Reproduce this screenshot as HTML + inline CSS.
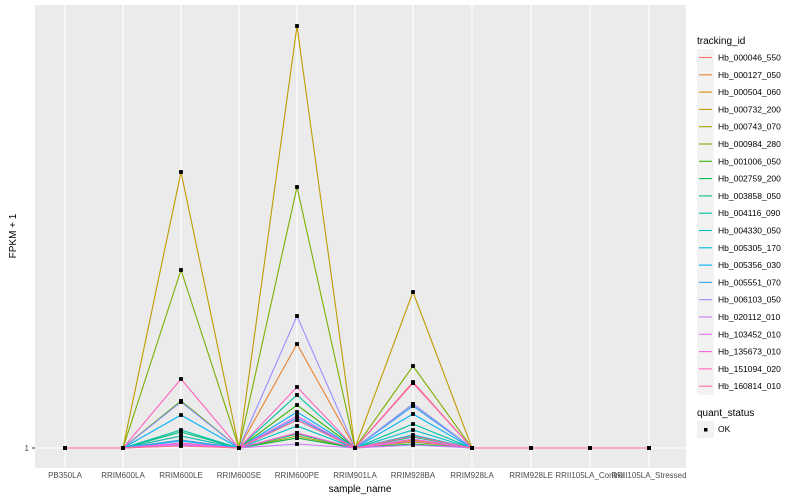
<!DOCTYPE html>
<html><head><meta charset="utf-8"><style>
body{margin:0;background:#fff;}
svg{display:block;font-family:"Liberation Sans",sans-serif;}
</style></head><body>
<svg id="s" width="800" height="500" xmlns="http://www.w3.org/2000/svg">
<rect x="35" y="5" width="651" height="463" fill="#EBEBEB"/>
<g stroke="#fff" stroke-width="1.1">
<line x1="35" x2="686" y1="448" y2="448"/>
<line x1="65" x2="65" y1="5" y2="468"/><line x1="123" x2="123" y1="5" y2="468"/>
<line x1="181" x2="181" y1="5" y2="468"/><line x1="239" x2="239" y1="5" y2="468"/>
<line x1="297" x2="297" y1="5" y2="468"/><line x1="355" x2="355" y1="5" y2="468"/>
<line x1="413" x2="413" y1="5" y2="468"/><line x1="472" x2="472" y1="5" y2="468"/>
<line x1="531" x2="531" y1="5" y2="468"/><line x1="590" x2="590" y1="5" y2="468"/>
<line x1="649" x2="649" y1="5" y2="468"/>
</g>
<g id="lines"></g>
<g id="pts"></g>
<line x1="32" x2="35" y1="448" y2="448" stroke="#333"/>
<text x="29" y="451" font-size="8" text-anchor="end" fill="#4D4D4D">1</text>
<g font-size="8" fill="#4D4D4D" text-anchor="middle">
<text x="65" y="478">PB350LA</text><text x="123" y="478">RRIM600LA</text>
<text x="181" y="478">RRIM600LE</text><text x="239" y="478">RRIM600SE</text>
<text x="297" y="478">RRIM600PE</text><text x="355" y="478">RRIM901LA</text>
<text x="413" y="478">RRIM928BA</text><text x="472" y="478">RRIM928LA</text>
<text x="531" y="478">RRIM928LE</text><text x="590" y="478">RRII105LA_Control</text>
<text x="649" y="478">RRII105LA_Stressed</text>
</g>
<text x="360" y="492" font-size="10" text-anchor="middle">sample_name</text>
<text x="16" y="236" font-size="10" text-anchor="middle" transform="rotate(-90 16 236)">FPKM + 1</text>
<text x="697" y="44" font-size="10">tracking_id</text>
<g id="leg" font-size="8.5"></g>
<text x="697" y="416" font-size="10">quant_status</text>
<rect x="697" y="421" width="17" height="17" fill="#F2F2F2"/>
<rect x="704" y="428" width="3.5" height="3.5" fill="#000"/>
<text x="718" y="432" font-size="8.5">OK</text>
</svg>
<script>
var names=["Hb_000046_550","Hb_000127_050","Hb_000504_060","Hb_000732_200","Hb_000743_070","Hb_000984_280","Hb_001006_050","Hb_002759_200","Hb_003858_050","Hb_004116_090","Hb_004330_050","Hb_005305_170","Hb_005356_030","Hb_005551_070","Hb_006103_050","Hb_020112_010","Hb_103452_010","Hb_135673_010","Hb_151094_020","Hb_160814_010"];
var cols=["#F8766D","#EA8331","#D89000","#C09B00","#A3A500","#7CAE00","#39B600","#00BB4E","#00BF7D","#00C1A3","#00BFC4","#00BAE0","#00B0F6","#35A2FF","#9590FF","#C77CFF","#E76BF3","#FA62DB","#FF62BC","#FF6C91"];
var v=[[443,433,382],[401,344,383],[436,438,440],[172,26,292],[440,436,442],[270,187,366],[401,405,404],[445,438,444],[432,434,437],[430,395,424],[436,426,430],[441,420,435],[415,412,414],[440,418,406],[402,316,404],[444,444,445],[445,416,439],[443,433,441],[379,387,383],[446,420,436]];
var xs=[65,123,181,239,297,355,413,472,531,590,649];
var L="",P="",G="";
for(var i=0;i<20;i++){var ys=[448,448,v[i][0],448,v[i][1],448,v[i][2],448,448,448,448];
var p=xs.map(function(x,k){return x+","+ys[k]}).join(" ");
L+='<polyline fill="none" stroke="'+cols[i]+'" stroke-width="1.1" points="'+p+'"/>';
for(var k=0;k<11;k++)P+='<rect x="'+(xs[k]-1.9)+'" y="'+(ys[k]-1.9)+'" width="3.8" height="3.8" fill="#000"/>';
var y=49+i*17.3;
G+='<rect x="697" y="'+y+'" width="17" height="17" fill="#F2F2F2"/><line x1="699" x2="712" y1="'+(y+8.5)+'" y2="'+(y+8.5)+'" stroke="'+cols[i]+'" stroke-width="1.1"/><text x="718" y="'+(y+11.5)+'">'+names[i]+'</text>';}
document.getElementById("lines").innerHTML=L;document.getElementById("pts").innerHTML=P;document.getElementById("leg").innerHTML=G;
</script>
</body></html>
